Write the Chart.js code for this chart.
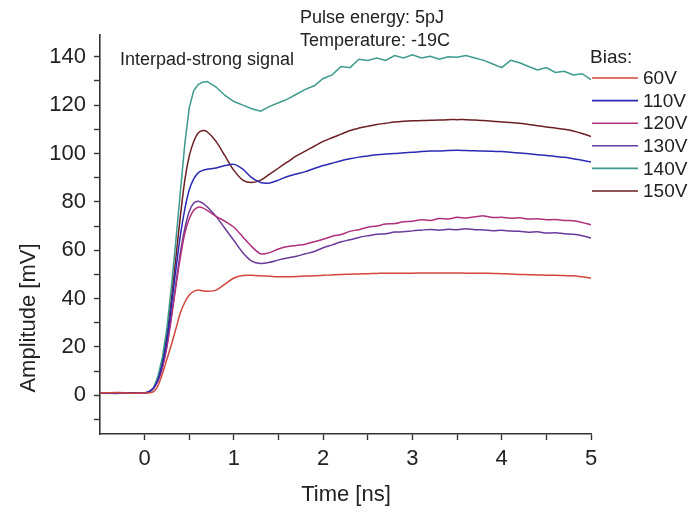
<!DOCTYPE html>
<html>
<head>
<meta charset="utf-8">
<script src="https://cdn.jsdelivr.net/npm/chart.js@4.4.1/dist/chart.umd.min.js"></script>
<style>
  html, body { margin: 0; padding: 0; background: #fff; }
  #wrap { width: 689px; height: 508px; }
</style>
</head>
<body>
<div id="wrap"><canvas id="pulse-chart" width="689" height="508"></canvas></div>
<script>
// Datos (tiempo en ns, amplitud en mV)
const timeNs = [-0.5, -0.3, -0.1, 0,
  0.05, 0.1, 0.15, 0.2, 0.25, 0.3, 0.35, 0.4, 0.45, 0.5, 0.55, 0.6, 0.65, 0.7,
  0.8, 0.9, 1.0, 1.1, 1.2, 1.3, 1.4, 1.5, 1.6, 1.7, 1.8, 1.9, 2.0,
  2.1, 2.2, 2.3, 2.4, 2.5, 2.6, 2.7, 2.8, 2.9, 3.0,
  3.1, 3.2, 3.3, 3.4, 3.5, 3.6, 3.7, 3.8, 3.9, 4.0,
  4.1, 4.2, 4.3, 4.4, 4.5, 4.6, 4.7, 4.8, 4.9, 5.0];

const bias60 = [1, 1.1, 0.9, 1,
  1, 1.5, 4, 9, 15, 21, 27.5, 34, 38.5, 41.5, 43, 43.5, 43.2, 43,
  43.5, 46, 48.5, 49.5, 49.6, 49.4, 49.2, 49, 49, 49.1, 49.3, 49.4, 49.6,
  49.8, 50, 50.1, 50.2, 50.3, 50.4, 50.5, 50.5, 50.5, 50.5,
  50.6, 50.6, 50.6, 50.6, 50.6, 50.5, 50.5, 50.5, 50.4, 50.3,
  50.2, 50, 49.9, 49.8, 49.7, 49.6, 49.5, 49.4, 49, 48.5];

const bias110 = [1, 0.8, 1.1, 1,
  1.5, 3, 6.5, 13, 23, 37, 52, 66, 77, 85, 89.5, 92, 93, 93.5,
  94, 95, 95.5, 93.5, 90, 88, 87.8, 89, 90.5, 91.5, 92.5, 93.8, 95,
  96, 97, 97.8, 98.5, 99, 99.5, 99.8, 100, 100.3, 100.5,
  100.8, 101, 101, 101.2, 101.3, 101.2, 101.1, 101, 100.9, 100.8,
  100.5, 100.2, 99.9, 99.5, 99.2, 98.8, 98.4, 97.8, 97.2, 96.5];

const bias120 = [1, 1.2, 0.9, 1,
  1.5, 3, 6, 11.5, 20, 32, 45, 57, 67, 73, 76.5, 77.8, 77.5, 76.5,
  74, 72, 69.5, 65.5, 61.5, 58.5, 59, 60.5, 61.5, 62, 62.5, 63.5, 64.5,
  65.8, 66.5, 67.8, 68.5, 69.5, 70, 70.8, 71, 71.8, 72,
  72.6, 72.3, 73.1, 72.9, 73.6, 73.3, 73.8, 74.2, 73.5, 73.6,
  73.2, 73.4, 72.9, 73, 72.6, 72.7, 72.3, 72.2, 71.5, 70.5];

const bias130 = [1, 0.9, 1.1, 1,
  1.5, 3, 6, 12, 21, 33, 46, 59, 69, 76, 79.5, 80.3, 79.5, 78,
  74, 69, 64, 59, 55.5, 54.5, 55, 56, 56.8, 57.5, 58.5, 59.5, 61,
  62.2, 63.5, 64.3, 65.3, 66, 66.6, 66.8, 67.5, 67.6, 68,
  68.3, 68.6, 68.3, 68.7, 68.5, 68.9, 68.5, 68.4, 68.1, 68.3,
  67.9, 67.8, 67.4, 67.6, 67.1, 67.2, 66.8, 66.6, 66, 65];

const bias140 = [1, 1.1, 0.9, 1,
  1.5, 3, 8, 16, 28, 45, 64, 84, 104, 119, 126, 128.5, 129.5, 129.8,
  127.5, 124, 121.5, 120, 118.5, 117.5, 119.5, 121, 122.5, 124.5, 126.5, 128, 131,
  132.5, 136, 135.5, 139, 138.5, 139.5, 138.5, 140.5, 139.5, 140.8,
  139.5, 140.2, 139, 140, 139.8, 140.5, 139.5, 138.5, 137, 135.5,
  138.5, 137.5, 136, 134.5, 135.5, 133.5, 134, 132.5, 133, 130.5];

const bias150 = [1, 0.9, 1.1, 1,
  1.5, 3, 7, 14, 25, 40, 57, 74, 89, 99, 105, 108.5, 109.5, 109,
  105, 99, 93, 89, 88, 89, 91.5, 94, 96.5, 99, 101, 103, 105,
  106.5, 108, 109.5, 110.5, 111.3, 112, 112.5, 113, 113.3, 113.5,
  113.6, 113.7, 113.8, 114, 114, 114, 113.8, 113.6, 113.3, 113,
  112.8, 112.5, 112, 111.5, 111, 110.5, 110, 109.3, 108.3, 107];

const seriesLabels = ['60V', '110V', '120V', '130V', '140V', '150V'];
const seriesValues = [bias60, bias110, bias120, bias130, bias140, bias150];
const seriesColors = ['#d2473c', '#2a2ab4', '#b0307c', '#6a3a9a', '#3d9a8c', '#6b1f24'];

const xTicks = [0, 0.5, 1, 1.5, 2, 2.5, 3, 3.5, 4, 4.5, 5];
const yTicks = [-10, 0, 10, 20, 30, 40, 50, 60, 70, 80, 90, 100, 110, 120, 130, 140];

const fontFamily = '"Liberation Sans", Arial, sans-serif';
const textColor = '#222';
const axisColor = '#333';

// Textos sueltos, títulos de ejes y leyenda dibujados a mano
const extrasPlugin = {
    id: 'extras',
    afterDraw(chart) {
        const ctx = chart.ctx;
        ctx.save();
        ctx.fillStyle = textColor;
        ctx.textBaseline = 'middle';

        ctx.font = '18px ' + fontFamily;
        ctx.textAlign = 'left';
        ctx.fillText('Interpad-strong signal', 120, 60);
        ctx.fillText('Pulse energy: 5pJ', 300, 18);
        ctx.fillText('Temperature: -19C', 300, 41);

        // Título eje X
        ctx.font = '22px ' + fontFamily;
        ctx.textAlign = 'center';
        ctx.fillText('Time [ns]', 346, 495);

        // Título eje Y (rotado)
        ctx.save();
        ctx.translate(29, 318);
        ctx.rotate(-Math.PI / 2);
        ctx.fillText('Amplitude [mV]', 0, 0);
        ctx.restore();

        // Leyenda
        ctx.font = '19px ' + fontFamily;
        ctx.textAlign = 'left';
        ctx.fillText('Bias:', 590, 58);
        chart.data.datasets.forEach((ds, i) => {
            const y = 78 + i * 22.6;
            ctx.strokeStyle = ds.borderColor;
            ctx.lineWidth = 1.6;
            ctx.beginPath();
            ctx.moveTo(592, y);
            ctx.lineTo(638, y);
            ctx.stroke();
            ctx.fillText(ds.label, 643, y + 1);
        });
        ctx.restore();
    }
};

const datasets = seriesLabels.map((label, i) => ({
    label: label,
    data: timeNs.map((t, j) => ({ x: t, y: seriesValues[i][j] })),
    borderColor: seriesColors[i],
    borderWidth: 1.5,
    pointRadius: 0,
    fill: false,
    tension: label === '140V' ? 0 : 0.3
}));

new Chart(document.getElementById('pulse-chart'), {
    type: 'line',
    data: { datasets: datasets },
    options: {
        responsive: false,
        animation: false,
        layout: { padding: { left: 0, top: 35, right: 98, bottom: 0 } },
        plugins: {
            legend: { display: false },
            tooltip: { enabled: false }
        },
        scales: {
            x: {
                type: 'linear',
                min: -0.5,
                max: 5,
                afterBuildTicks: scale => { scale.ticks = xTicks.map(v => ({ value: v })); },
                afterFit: scale => { scale.height = 74; },
                border: { display: true, color: axisColor, width: 1.6 },
                grid: { drawOnChartArea: false, drawTicks: true, tickLength: 6, color: axisColor, tickWidth: 1.4 },
                ticks: {
                    color: textColor,
                    font: { family: fontFamily, size: 22 },
                    padding: 6,
                    maxRotation: 0,
                    autoSkip: false,
                    callback: v => (Number.isInteger(v) ? v : '')
                }
            },
            y: {
                type: 'linear',
                min: -16,
                max: 149,
                afterBuildTicks: scale => { scale.ticks = yTicks.map(v => ({ value: v })); },
                afterFit: scale => { scale.width = 100; },
                border: { display: true, color: axisColor, width: 1.6 },
                grid: { drawOnChartArea: false, drawTicks: true, tickLength: 6, color: axisColor, tickWidth: 1.4 },
                ticks: {
                    color: textColor,
                    font: { family: fontFamily, size: 22 },
                    padding: 8,
                    autoSkip: false,
                    callback: v => (v % 20 === 0 ? v : '')
                }
            }
        }
    },
    plugins: [extrasPlugin]
});
</script>
</body>
</html>
